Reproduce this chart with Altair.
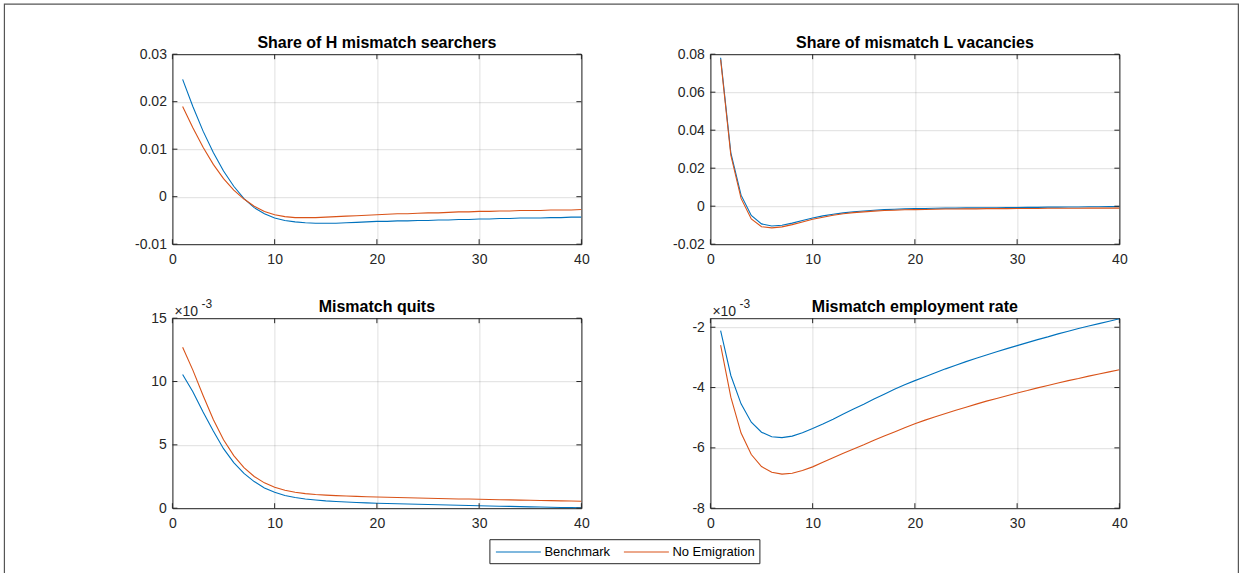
import altair as alt
import pandas as pd

# ---------------- data ----------------
t = list(range(1, 41))

# Share of H mismatch searchers
h_bench = [0.0247, 0.0190, 0.0138, 0.0093, 0.0054, 0.0022, -0.0004, -0.0023, -0.0036, -0.0045,
           -0.0050, -0.0053, -0.0055, -0.0056, -0.0056, -0.0056, -0.0055, -0.0054, -0.0053, -0.0052,
           -0.0052, -0.0051, -0.0051, -0.0050, -0.0050, -0.0049, -0.0049, -0.0048, -0.0048, -0.0047,
           -0.0047, -0.0046, -0.0046, -0.0045, -0.0045, -0.0045, -0.0044, -0.0044, -0.0043, -0.0043]
h_noem = [0.0190, 0.0145, 0.0104, 0.0068, 0.0038, 0.0014, -0.0005, -0.0020, -0.0031, -0.0038,
          -0.0042, -0.0044, -0.0044, -0.0044, -0.0043, -0.0042, -0.0041, -0.0040, -0.0039, -0.0038,
          -0.0037, -0.0036, -0.0036, -0.0035, -0.0034, -0.0034, -0.0033, -0.0032, -0.0032, -0.0031,
          -0.0031, -0.0030, -0.0030, -0.0029, -0.0029, -0.0029, -0.0028, -0.0028, -0.0028, -0.0027]

# Share of mismatch L vacancies
v_bench = [0.0781, 0.0281, 0.0058, -0.0049, -0.0093, -0.0104, -0.0100, -0.0089, -0.0075, -0.0062,
           -0.0051, -0.0042, -0.0035, -0.0029, -0.0025, -0.0021, -0.0018, -0.0016, -0.0014, -0.0013,
           -0.0012, -0.0011, -0.0010, -0.0010, -0.0009, -0.0009, -0.0008, -0.0008, -0.0007, -0.0007,
           -0.0006, -0.0006, -0.0005, -0.0005, -0.0004, -0.0004, -0.0003, -0.0003, -0.0002, -0.0002]
v_noem = [0.0772, 0.0268, 0.0041, -0.0067, -0.0108, -0.0114, -0.0109, -0.0097, -0.0083, -0.0069,
          -0.0058, -0.0048, -0.0040, -0.0034, -0.0030, -0.0026, -0.0023, -0.0021, -0.0019, -0.0018,
          -0.0017, -0.0016, -0.0015, -0.0015, -0.0014, -0.0014, -0.0013, -0.0013, -0.0013, -0.0012,
          -0.0012, -0.0012, -0.0011, -0.0011, -0.0011, -0.0011, -0.0010, -0.0010, -0.0010, -0.0010]

# Mismatch quits (x 10^-3)
q_bench = [10.55, 9.2, 7.6, 6.1, 4.7, 3.6, 2.75, 2.1, 1.6, 1.25,
           1.0, 0.85, 0.73, 0.65, 0.58, 0.53, 0.49, 0.45, 0.42, 0.39,
           0.37, 0.35, 0.33, 0.31, 0.29, 0.27, 0.25, 0.23, 0.21, 0.19,
           0.17, 0.155, 0.14, 0.12, 0.105, 0.09, 0.075, 0.06, 0.045, 0.03]
q_noem = [12.7, 10.9, 8.9, 7.0, 5.4, 4.15, 3.2, 2.5, 2.0, 1.65,
          1.42, 1.26, 1.15, 1.08, 1.03, 0.99, 0.96, 0.93, 0.90, 0.88,
          0.86, 0.84, 0.82, 0.80, 0.79, 0.77, 0.75, 0.73, 0.72, 0.70,
          0.685, 0.67, 0.655, 0.64, 0.625, 0.61, 0.595, 0.58, 0.565, 0.55]

# Mismatch employment rate (x 10^-3)
e_bench = [-2.11, -3.60, -4.54, -5.15, -5.48, -5.63, -5.66, -5.61, -5.50, -5.36,
           -5.21, -5.05, -4.88, -4.71, -4.55, -4.38, -4.22, -4.06, -3.91, -3.77,
           -3.64, -3.51, -3.38, -3.26, -3.14, -3.03, -2.92, -2.81, -2.71, -2.61,
           -2.51, -2.41, -2.32, -2.22, -2.13, -2.04, -1.96, -1.88, -1.80, -1.72]
e_noem = [-2.59, -4.32, -5.51, -6.22, -6.62, -6.81, -6.87, -6.84, -6.75, -6.63,
          -6.48, -6.33, -6.18, -6.04, -5.90, -5.75, -5.61, -5.47, -5.33, -5.20,
          -5.08, -4.97, -4.86, -4.75, -4.65, -4.55, -4.45, -4.36, -4.27, -4.18,
          -4.10, -4.01, -3.93, -3.85, -3.77, -3.70, -3.62, -3.55, -3.48, -3.41]

series = ["Benchmark", "No Emigration"]
titles = ["Share of H mismatch searchers", "Share of mismatch L vacancies",
          "Mismatch quits", "Mismatch employment rate"]
x_ticks = [0, 10, 20, 30, 40]
y_ticks_h = [-0.01, 0, 0.01, 0.02, 0.03]
y_ticks_v = [-0.02, 0, 0.02, 0.04, 0.06, 0.08]
y_ticks_q = [0, 5, 10, 15]
y_ticks_e = [-8, -6, -4, -2]
exp_base = "\u00d710"
exp_power = "-3"

# ---------------- style ----------------
BLUE = "#0072BD"
ORANGE = "#D95319"
DARK = "#262626"
FONT = "Liberation Sans"
W, H = 409, 190
TK = 5


def panel(title, bench, noem, ydom, yticks, exponent=False, frame=False):
    df = pd.DataFrame({"t": t + t, "v": bench + noem,
                       "s": [series[0]] * len(t) + [series[1]] * len(t)})
    xscale = alt.Scale(domain=[0, 40], nice=False, zero=False)
    yscale = alt.Scale(domain=ydom, nice=False, zero=False)
    xaxis = alt.Axis(values=x_ticks, title=None, grid=True, ticks=False, domain=False,
                     labelFlush=False, labelOverlap=False, labelPadding=8, format="d")
    yaxis = alt.Axis(values=yticks, title=None, grid=True, ticks=False, domain=False,
                     labelPadding=6, labelOverlap=False, labelFlush=False,
                     labelExpr="replace(format(datum.value, '~g'), '\u2212', '-')")
    xf = lambda: alt.X("t:Q", scale=xscale, axis=xaxis)
    yf = lambda: alt.Y("v:Q", scale=yscale, axis=yaxis)
    lines = alt.Chart(df).mark_line(strokeWidth=1.1, clip=True).encode(
        x=xf(), y=yf(),
        color=alt.Color("s:N", scale=alt.Scale(domain=series, range=[BLUE, ORANGE]),
                        legend=alt.Legend(title=None)),
    )
    ytk = pd.DataFrame({"v": yticks})
    xtk = pd.DataFrame({"t": x_ticks})
    tl = alt.Chart(ytk).mark_rule(color=DARK, strokeWidth=1).encode(
        y=yf(), x=alt.value(0), x2=alt.value(TK))
    tr = alt.Chart(ytk).mark_rule(color=DARK, strokeWidth=1).encode(
        y=yf(), x=alt.value(W - TK), x2=alt.value(W))
    tb = alt.Chart(xtk).mark_rule(color=DARK, strokeWidth=1).encode(
        x=xf(), y=alt.value(H), y2=alt.value(H - TK))
    tt = alt.Chart(xtk).mark_rule(color=DARK, strokeWidth=1).encode(
        x=xf(), y=alt.value(0), y2=alt.value(TK))
    one = pd.DataFrame({"a": [0]})
    ttl = alt.Chart(one).mark_text(text=title, align="center", baseline="alphabetic",
                                   fontSize=16, fontWeight="bold", font=FONT, color="black").encode(
        x=alt.value(W / 2), y=alt.value(-6.5))
    layers = []
    if frame:
        # outer figure border
        layers.append(alt.Chart(one).mark_rect(fillOpacity=0, stroke="#555555", strokeWidth=1.2)
                      .encode(x=alt.value(-168), x2=alt.value(1066),
                              y=alt.value(-50), y2=alt.value(522)))
    layers += [lines, tl, tr, tb, tt, ttl]
    if exponent:
        layers.append(alt.Chart(one).mark_text(text=exp_base, align="left", baseline="alphabetic",
                                               fontSize=14, font=FONT, color=DARK)
                      .encode(x=alt.value(2), y=alt.value(-2)))
        layers.append(alt.Chart(one).mark_text(text=exp_power, align="left", baseline="alphabetic",
                                               fontSize=12, font=FONT, color=DARK)
                      .encode(x=alt.value(29), y=alt.value(-10)))
    return alt.layer(*layers).properties(width=W, height=H)


p1 = panel(titles[0], h_bench, h_noem, [-0.01, 0.03], y_ticks_h, frame=True)
p2 = panel(titles[1], v_bench, v_noem, [-0.02, 0.08], y_ticks_v)
p3 = panel(titles[2], q_bench, q_noem, [0, 15], y_ticks_q, exponent=True)
p4 = panel(titles[3], e_bench, e_noem, [-8, -1.7], y_ticks_e, exponent=True)

chart = alt.concat(
    p1, p2, p3, p4, columns=2,
    spacing={"row": 74, "column": 129}, bounds="flush",
).properties(
    padding={"left": 2.4, "top": 2.2, "right": 0, "bottom": 0}
).configure_view(
    stroke=DARK, strokeWidth=1
).configure_axis(
    labelFont=FONT, labelFontSize=14, labelColor=DARK, labelOverlap=False,
    gridColor=DARK, gridOpacity=0.15, gridWidth=1
).configure_legend(
    orient="none", legendX=317, legendY=485, direction="horizontal",
    symbolType="M-0.8,0H5.2", symbolSize=225, symbolStrokeWidth=1.1,
    labelFont=FONT, labelFontSize=13, labelColor="black", labelOffset=34,
    strokeColor=DARK, fillColor="white", padding=4, columnPadding=11,
    cornerRadius=0
)

chart.save("out.html", embed_options={"renderer": "svg", "actions": False})
